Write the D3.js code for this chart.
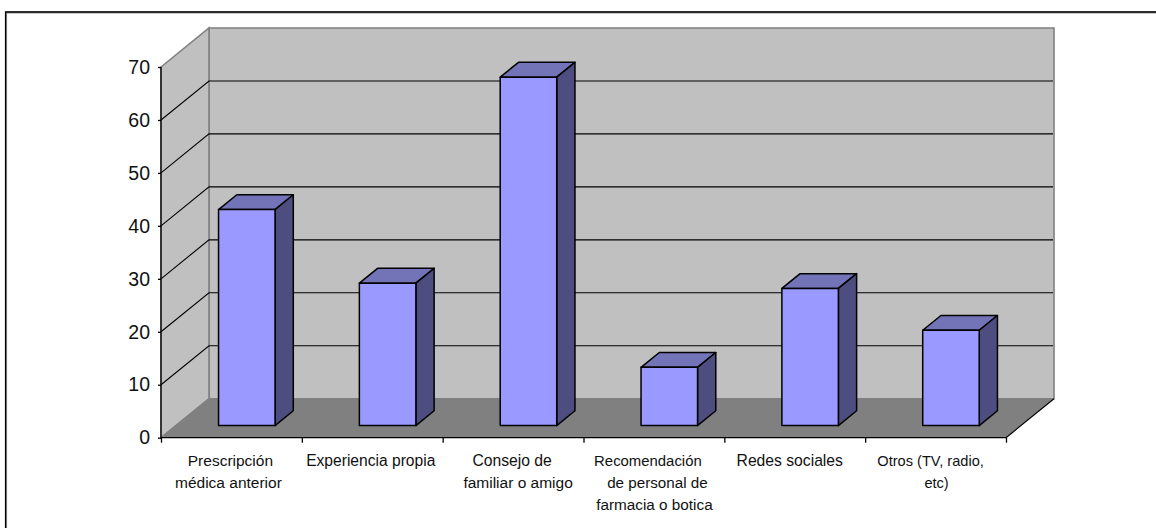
<!DOCTYPE html>
<html>
<head>
<meta charset="utf-8">
<script src="https://cdn.jsdelivr.net/npm/d3@7"></script>
<style>
html, body { margin: 0; padding: 0; background: #fff; }
svg { display: block; }
text { font-family: "Liberation Sans", Arial, sans-serif; fill: #111; }
</style>
</head>
<body>
<svg id="chart" width="1156" height="528"></svg>
<script>
// Razones de consumo: porcentaje por categoría
const categories = [
  ["Prescripción", "médica anterior"],
  ["Experiencia propia"],
  ["Consejo de", "familiar o amigo"],
  ["Recomendación", "de personal de", "farmacia o botica"],
  ["Redes sociales"],
  ["Otros (TV, radio,", "etc)"]
];
const values = [40.8, 26.9, 65.8, 11, 25.9, 18];
const yTicks = [0, 10, 20, 30, 40, 50, 60, 70];

// Per-line horizontal nudges and font sizes for the wrapped category labels
const labelNudge = [[-1, -3], [-1.5], [-1, 5], [-6, 3.5, 0.5], [-5], [-5, 1]];
const labelSize = [[15.5, 15.5], [15.6], [15.7, 15.5], [14.9, 15.2, 15.3], [15.7], [14.6, 14.6]];

const svg = d3.select("#chart");

// Frame: only the top and left rules fall inside the page
const frame = svg.append("g").attr("fill", "none");
frame.append("path").attr("d", "M6,528V12.5H1156").attr("stroke", "#999").attr("stroke-width", 2.2);
frame.append("path").attr("d", "M5.6,528V12H1156").attr("stroke", "#000").attr("stroke-width", 1.3);

// Oblique projection: depth is a shift up and to the right
const depthX = 48, depthY = 39;
const x = d3.scaleBand().domain(d3.range(categories.length)).range([161, 1006]);
const y = d3.scaleLinear().domain([0, 70]).range([437.7, 67]);
const pt = (px, py, d) => [px + d * depthX, py - d * depthY];
const poly = pts => pts.map(p => p.join(",")).join(" ");

const x0 = x.range()[0], x1 = x.range()[1], yB = y(0), yT = y(70);

// Back wall, side wall and floor
svg.append("polygon").attr("points", poly([pt(x0, yT, 1), pt(x1, yT, 1), pt(x1, yB, 1), pt(x0, yB, 1)]))
  .attr("fill", "#c0c0c0").attr("stroke", "#808080").attr("stroke-width", 1.6);
svg.append("polygon").attr("points", poly([pt(x0, yT, 0), pt(x0, yT, 1), pt(x0, yB, 1), pt(x0, yB, 0)]))
  .attr("fill", "#c0c0c0").attr("stroke", "#808080").attr("stroke-width", 1.6);
svg.append("polygon").attr("points", poly([pt(x0, yB, 0), pt(x0, yB, 1), pt(x1, yB, 1), pt(x1, yB, 0)]))
  .attr("fill", "#808080");
svg.append("line")
  .attr("x1", pt(x1, yB, 0)[0]).attr("y1", pt(x1, yB, 0)[1])
  .attr("x2", pt(x1, yB, 1)[0]).attr("y2", pt(x1, yB, 1)[1])
  .attr("stroke", "#000").attr("stroke-width", 1.1);

// Gridlines on both walls
const grid = yTicks.filter(t => t > 0 && t < 70);
svg.append("g").selectAll("polyline").data(grid).join("polyline")
  .attr("points", t => poly([pt(x0, y(t), 0), pt(x0, y(t), 1), pt(x1 - 1, y(t), 1)]))
  .attr("fill", "none").attr("stroke", "#000").attr("stroke-width", 1.1);

// Bars: top, side and front faces, centred in the floor depth
const barDepth0 = 0.31, barDepth1 = 0.69, barW = 56.5;
const barLeft = i => x(i) + (x.bandwidth() - barW) / 2 + 0.5;
const bars = svg.append("g").selectAll("g").data(values).join("g");
bars.append("polygon").attr("points", (v, i) => {
    const l = barLeft(i), r = l + barW;
    return poly([pt(l, y(v), barDepth0), pt(l, y(v), barDepth1), pt(r, y(v), barDepth1), pt(r, y(v), barDepth0)]);
  }).attr("fill", "#7373b8");
bars.append("polygon").attr("points", (v, i) => {
    const r = barLeft(i) + barW;
    return poly([pt(r, y(v), barDepth0), pt(r, y(v), barDepth1), pt(r, y(0), barDepth1), pt(r, y(0), barDepth0)]);
  }).attr("fill", "#4d4d80");
bars.append("polygon").attr("points", (v, i) => {
    const l = barLeft(i), r = l + barW;
    return poly([pt(l, y(v), barDepth0), pt(r, y(v), barDepth0), pt(r, y(0), barDepth0), pt(l, y(0), barDepth0)]);
  }).attr("fill", "#9999ff");
bars.selectAll("polygon").attr("stroke", "#000").attr("stroke-width", 1.5).attr("stroke-linejoin", "round");

// Front axes
const axisY = d3.axisLeft(y).tickValues(yTicks).tickSize(3).tickPadding(8).tickFormat(d3.format("d"));
const gy = svg.append("g").attr("transform", `translate(${x0},0)`).call(axisY);
gy.selectAll("path,line").attr("stroke", "#000").attr("stroke-width", 1.3);
gy.select("path").attr("d", `M0,${yT}V${yB}`);
gy.selectAll("text").attr("font-size", 19.5).style("font-family", '"Liberation Sans", Arial, sans-serif').attr("fill", "#111");

const axisX = d3.axisBottom(d3.scaleLinear().domain([0, 6]).range([x0, x1]))
  .tickValues(d3.range(7)).tickSize(5).tickFormat("");
const gx = svg.append("g").attr("transform", `translate(0,${yB})`).call(axisX);
gx.selectAll("path,line").attr("stroke", "#000").attr("stroke-width", 1.3);
gx.select("path").attr("d", `M${x0},0H${x1}`);

// Category labels
const labels = svg.append("g").selectAll("text").data(categories).join("text")
  .attr("text-anchor", "middle");
labels.selectAll("tspan").data((d, i) => d.map((line, j) => ({ line, i, j }))).join("tspan")
  .attr("x", d => x(d.i) + x.bandwidth() / 2 + labelNudge[d.i][d.j])
  .attr("y", d => 466 + d.j * 22)
  .attr("font-size", d => labelSize[d.i][d.j])
  .text(d => d.line);
</script>
</body>
</html>
